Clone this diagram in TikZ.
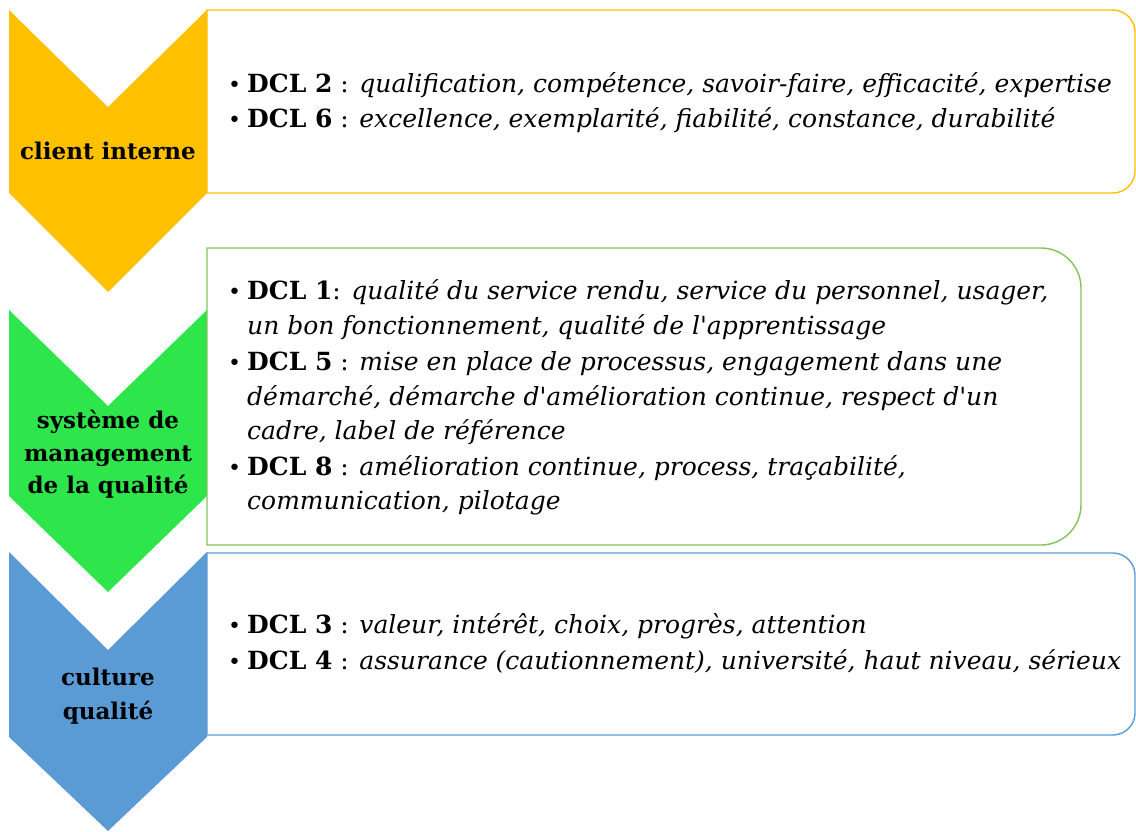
\documentclass[tikz,border=0pt]{standalone}
\usepackage{fontspec}
\setmainfont{DejaVu Serif}
\definecolor{corange}{RGB}{255,192,0}
\definecolor{cgreen}{RGB}{46,230,76}
\definecolor{cblue}{RGB}{91,155,213}
\definecolor{bgreen}{RGB}{130,196,90}
\tikzset{
  chev/.style={fill=#1, draw=none},
  boxline/.style={draw=#1, line width=1.4pt, fill=white},
  lbl/.style={anchor=base, inner sep=0pt, font=\fontsize{23}{27}\selectfont\bfseries},
  bul/.style={anchor=base west, inner sep=0pt, font=\fontsize{22}{26}\selectfont},
  txt/.style={anchor=base west, inner sep=0pt, font=\fontsize{25}{30}\selectfont},
}
\newcommand{\dcl}[2]{\textbf{DCL #1}#2}
\newcommand{\ap}{\textquotesingle}
\begin{document}
\begin{tikzpicture}[x=1pt,y=-1pt]
\useasboundingbox (0,0) rectangle (1136,832);
% chevrons
\path[chev=corange] (9,10) -- (108,107) -- (207,10) -- (207,193) -- (108,292) -- (9,193) -- cycle;
\path[chev=cgreen] (9,310) -- (108,406) -- (207,310) -- (207,496) -- (108,592) -- (9,496) -- cycle;
\path[chev=cblue] (9,552) -- (108,650) -- (207,552) -- (207,737) -- (108,831) -- (9,737) -- cycle;
% boxes
\path[boxline=corange] (207,10) -- (1113,10) .. controls (1125,10) and (1135,20) .. (1135,32) -- (1135,171) .. controls (1135,183) and (1125,193) .. (1113,193) -- (207,193) -- cycle;
\path[boxline=bgreen] (207,248) -- (1041,248) .. controls (1063,248) and (1081,266) .. (1081,288) -- (1081,505) .. controls (1081,527) and (1063,545) .. (1041,545) -- (207,545) -- cycle;
\path[boxline=cblue] (207,553) -- (1113,553) .. controls (1125,553) and (1135,563) .. (1135,575) -- (1135,713) .. controls (1135,725) and (1125,735) .. (1113,735) -- (207,735) -- cycle;
% chevron labels
\node[lbl] (l1) at (108,160) {client interne};
\node[lbl] (l2a) at (108,428) {système de};
\node[lbl] (l2b) at (108,461) {management};
\node[lbl] (l2c) at (108,493) {de la qualité};
\node[lbl] (l3a) at (108,685) {culture};
\node[lbl] (l3b) at (108,719) {qualité};
% box 1
\node[bul] (b1) at (228,93) {•};
\node[txt] (t1) at (247,93) {\dcl{2}{ : \textit{qualification, compétence, savoir-faire, efficacité, expertise}}};
\node[bul] (b2) at (228,128) {•};
\node[txt] (t2) at (247,128) {\dcl{6}{ : \textit{excellence, exemplarité, fiabilité, constance, durabilité}}};
% box 2
\node[bul] (b3) at (228,299) {•};
\node[txt] (t3) at (247,299) {\dcl{1}{: \textit{qualité du service rendu, service du personnel, usager,}}};
\node[txt] (t3b) at (247,334) {\textit{un bon fonctionnement, qualité de l\ap apprentissage}};
\node[bul] (b4) at (228,370) {•};
\node[txt] (t4) at (247,370) {\dcl{5}{ : \textit{mise en place de processus, engagement dans une}}};
\node[txt] (t4b) at (247,405) {\textit{démarché, démarche d\ap amélioration continue, respect d\ap un}};
\node[txt] (t4c) at (247,439) {\textit{cadre, label de référence}};
\node[bul] (b5) at (228,475) {•};
\node[txt] (t5) at (247,475) {\dcl{8}{ : \textit{amélioration continue, process, traçabilité,}}};
\node[txt] (t5b) at (247,509) {\textit{communication, pilotage}};
% box 3
\node[bul] (b6) at (228,633) {•};
\node[txt] (t6) at (247,633) {\dcl{3}{ : \textit{valeur, intérêt, choix, progrès, attention}}};
\node[bul] (b7) at (228,669) {•};
\node[txt] (t7) at (247,669) {\dcl{4}{ : \textit{assurance (cautionnement), université, haut niveau, sérieux}}};
\end{tikzpicture}
\end{document}
